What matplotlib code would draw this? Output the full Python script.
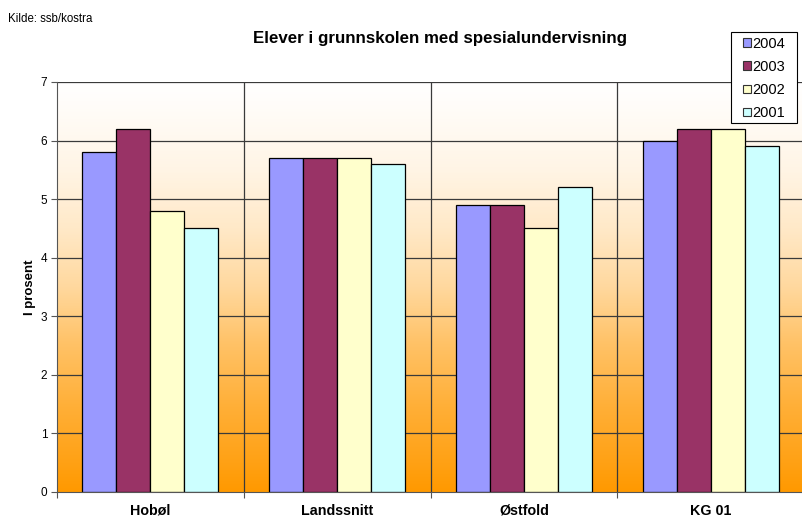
import numpy as np
import matplotlib.pyplot as plt
from matplotlib.patches import Patch, Rectangle
from matplotlib.colors import LinearSegmentedColormap

plt.rcParams['font.family'] = ['Liberation Sans', 'DejaVu Sans']

categories = ["Hobøl", "Landssnitt", "Østfold", "KG 01"]
years = ["2004", "2003", "2002", "2001"]
values_2004 = [5.8, 5.7, 4.9, 6.0]
values_2003 = [6.2, 5.7, 4.9, 6.2]
values_2002 = [4.8, 5.7, 4.5, 6.2]
values_2001 = [4.5, 5.6, 5.2, 5.9]
series = [values_2004, values_2003, values_2002, values_2001]
colors = ["#9999FF", "#993366", "#FFFFCC", "#CCFFFF"]

W, H = 802, 518
fig = plt.figure(figsize=(W / 100, H / 100), dpi=100)
ax = fig.add_axes([57 / W, 26 / H, (804 - 57) / W, (492 - 82) / H])

n = len(categories)
x = np.arange(n)
xmin, xmax = -0.5, n - 0.5
ax.set_xlim(xmin, xmax)
ax.set_ylim(0, 7)

# white-to-orange background gradient (orange weight by height fraction)
white = np.array([1.0, 1.0, 1.0])
orange = np.array([1.0, 0x99 / 255, 0.0])
pos = [0.0, 0.07, 0.21, 0.36, 0.5, 0.64, 0.79, 0.93, 1.0]
weight = [1.0, 0.92, 0.78, 0.6, 0.38, 0.22, 0.1, 0.03, 0.0]
stops = [(p, tuple(white * (1 - w) + orange * w)) for p, w in zip(pos, weight)]
grad_cmap = LinearSegmentedColormap.from_list("bg", stops)
grad = np.linspace(0, 1, 256).reshape(-1, 1)
ax.imshow(grad, cmap=grad_cmap, aspect="auto", extent=[xmin, xmax, 0, 7],
          origin="lower", zorder=0)

# grid lines
for yv in range(1, 8):
    ax.axhline(yv, color="#3a3a3a", lw=0.9, zorder=1)
for xb in np.arange(0.5, n - 0.5, 1.0):
    ax.axvline(xb, color="#3a3a3a", lw=0.9, zorder=1)

bw = 34 / 187
offsets = (np.arange(4) - 1.5) * bw
for vals, off, col in zip(series, offsets, colors):
    ax.bar(x + off, vals, width=bw, color=col, edgecolor="black", lw=0.9, zorder=2)

for side in ["top", "right"]:
    ax.spines[side].set_visible(False)
ax.spines["left"].set_color("#555555")
ax.spines["bottom"].set_color("#555555")
ax.spines["left"].set_zorder(3)
ax.spines["bottom"].set_zorder(3)

ax.set_yticks(range(0, 8))
ax.tick_params(axis="y", length=4, direction="out", labelsize=8.5, pad=3, color="#555555")
ax.set_xticks(np.arange(-0.5, n, 1.0), minor=False)
ax.set_xticklabels([])
ax.tick_params(axis="x", length=4, direction="out", color="#555555")
for xi, c in zip(x, categories):
    ax.text(xi, -0.2, c, ha="center", va="top", fontsize=10.3, fontweight="bold",
            transform=ax.transData, clip_on=False)

ax.set_ylabel("I prosent", fontsize=9.5, fontweight="bold", labelpad=3)

fig.text(8 / W, 1 - 19 / H, "Kilde: ssb/kostra", fontsize=8.3, va="center", ha="left")
fig.text(440 / W, 1 - 38 / H, "Elever i grunnskolen med spesialundervisning",
         fontsize=12.2, fontweight="bold", ha="center", va="center")

handles = [Patch(facecolor=c, edgecolor="#333333", lw=0.8) for c in colors]
leg = fig.legend(handles, years, loc="upper left",
                 bbox_to_anchor=(743 / W, 1 - 37 / H), fontsize=10.5,
                 frameon=False, handlelength=0.55, handleheight=0.55,
                 handletextpad=0.1, labelspacing=0.62, borderpad=0,
                 borderaxespad=0)
fig.patches.append(Rectangle((731 / W, 1 - 123 / H), 66 / W, 91 / H,
                             transform=fig.transFigure, facecolor="white",
                             edgecolor="black", lw=0.8, zorder=4))
leg.set_zorder(5)

fig.savefig("out.png", dpi=100)
